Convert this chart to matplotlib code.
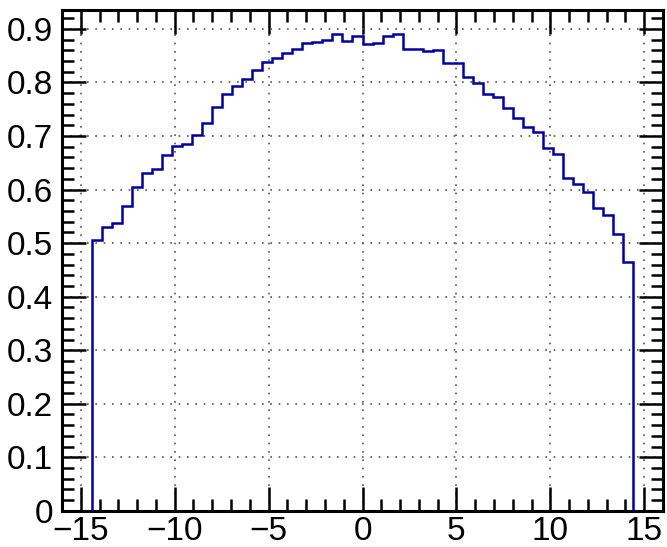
import numpy as np
import matplotlib
matplotlib.use("Agg")
import matplotlib.pyplot as plt
from matplotlib.ticker import MultipleLocator

plt.rcParams['font.family'] = ['Liberation Sans', 'DejaVu Sans']

# histogram: 54 bins from -14.4 to 14.4
x_lo, x_hi, n_bins = -14.4, 14.4, 54
values = [
    0.506, 0.530, 0.538, 0.569, 0.605, 0.631, 0.639, 0.665, 0.682, 0.685,
    0.702, 0.725, 0.755, 0.778, 0.794, 0.807, 0.824, 0.839, 0.846, 0.855,
    0.862, 0.874, 0.876, 0.880, 0.890, 0.877, 0.887, 0.871, 0.874, 0.886,
    0.890, 0.863, 0.863, 0.859, 0.860, 0.837, 0.837, 0.810, 0.799, 0.779,
    0.773, 0.753, 0.734, 0.717, 0.708, 0.677, 0.667, 0.622, 0.610, 0.595,
    0.565, 0.552, 0.517, 0.464,
]
edges = np.linspace(x_lo, x_hi, n_bins + 1)
y_labels = ['0', '0.1', '0.2', '0.3', '0.4', '0.5', '0.6', '0.7', '0.8', '0.9']

fig = plt.figure(figsize=(6.67, 5.47), dpi=100)
ax = fig.add_axes([0.093, 0.066, 0.901, 0.916])

ax.stairs(values, edges, baseline=0, color='#0000a0', linewidth=1.8, zorder=3)

ax.set_xlim(-16, 16)
ax.set_ylim(0, 0.9355)
ax.xaxis.set_major_locator(MultipleLocator(5))
ax.xaxis.set_minor_locator(MultipleLocator(1))
ax.yaxis.set_minor_locator(MultipleLocator(0.02))
ax.set_yticks(np.arange(len(y_labels)) * 0.1)
ax.set_yticklabels(y_labels)

ax.tick_params(which='both', direction='in', top=True, right=True,
               labelsize=24, width=1.8)
ax.tick_params(axis='x', pad=4)
ax.tick_params(axis='y', pad=6.5)
ax.tick_params(which='major', length=17)
ax.tick_params(which='minor', length=8.5)
for s in ax.spines.values():
    s.set_linewidth(2.2)

ax.grid(True, which='major', linestyle=(0, (1, 4)), color='#555555', linewidth=1.2)

fig.savefig('out.png', dpi=100)
